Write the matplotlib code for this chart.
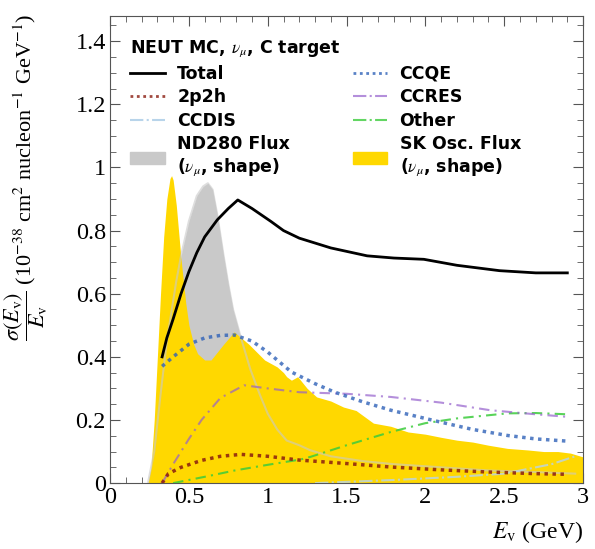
import numpy as np
import matplotlib
matplotlib.use("Agg")
import matplotlib.pyplot as plt
from matplotlib.patches import Patch
from matplotlib.lines import Line2D
from matplotlib.ticker import MultipleLocator

# cross sections / E (10^-38 cm^2 nucleon^-1 GeV^-1)
total_e = [0.33, 0.36, 0.40, 0.45, 0.50, 0.55, 0.60, 0.68, 0.75, 0.81, 0.90, 1.02, 1.10, 1.20, 1.40, 1.63,
           1.80, 1.99, 2.20, 2.47, 2.70, 2.90]
total_y = [0.40, 0.46, 0.52, 0.60, 0.67, 0.73, 0.78, 0.834, 0.87, 0.897, 0.87, 0.829, 0.80, 0.776, 0.745, 0.72,
           0.713, 0.709, 0.69, 0.673, 0.666, 0.666]

ccqe_e = [0.33, 0.40, 0.50, 0.60, 0.70, 0.79, 0.90, 1.00, 1.15, 1.30, 1.42, 1.60, 1.78, 2.09, 2.30, 2.52, 2.70, 2.90]
ccqe_y = [0.37, 0.40, 0.44, 0.46, 0.468, 0.469, 0.45, 0.415, 0.352, 0.315, 0.289, 0.258, 0.231, 0.194, 0.17, 0.151, 0.14, 0.133]

ccres_e = [0.33, 0.40, 0.50, 0.58, 0.70, 0.85, 1.00, 1.20, 1.50, 1.78, 2.10, 2.41, 2.70, 2.90]
ccres_y = [0.0, 0.06, 0.14, 0.20, 0.27, 0.31, 0.30, 0.288, 0.283, 0.273, 0.255, 0.231, 0.218, 0.21]

np_e = [0.33, 0.37, 0.45, 0.58, 0.70, 0.83, 1.00, 1.20, 1.50, 1.78, 2.10, 2.41, 2.70, 2.90]
np_y = [0.0, 0.03, 0.05, 0.072, 0.085, 0.091, 0.085, 0.073, 0.062, 0.051, 0.042, 0.035, 0.03, 0.028]

other_e = [0.40, 0.50, 0.60, 0.79, 1.00, 1.21, 1.27, 1.50, 1.78, 2.00, 2.20, 2.52, 2.70, 2.90]
other_y = [0.0, 0.01, 0.02, 0.04, 0.058, 0.075, 0.083, 0.12, 0.162, 0.19, 0.205, 0.221, 0.222, 0.218]

ccdis_e = [1.30, 1.80, 2.20, 2.50, 2.80, 2.95]
ccdis_y = [0.0, 0.01, 0.02, 0.03, 0.06, 0.085]

# flux shapes (arbitrary norm)
nd_e = [0.24, 0.28, 0.32, 0.36, 0.42, 0.45, 0.50, 0.55, 0.59, 0.62, 0.65, 0.68, 0.72, 0.75, 0.78, 0.83, 0.89,
        0.95, 1.00, 1.06, 1.12, 1.20, 1.27, 1.40, 1.60, 1.80, 2.10, 2.40, 2.70, 2.95]
nd_y = [0.0, 0.10, 0.28, 0.45, 0.64, 0.72, 0.83, 0.91, 0.94, 0.95, 0.93, 0.85, 0.72, 0.63, 0.55, 0.46, 0.36,
        0.28, 0.22, 0.17, 0.135, 0.12, 0.104, 0.085, 0.07, 0.06, 0.05, 0.04, 0.035, 0.03]

sk_e = [0.24, 0.26, 0.28, 0.30, 0.32, 0.34, 0.36, 0.38, 0.39, 0.40, 0.42, 0.45, 0.48, 0.50, 0.53, 0.555, 0.60,
        0.64, 0.72, 0.787, 0.88, 0.98, 1.06, 1.10, 1.12, 1.15, 1.19, 1.25, 1.31, 1.40, 1.48, 1.56, 1.67, 1.78,
        1.89, 2.00, 2.10, 2.20, 2.30, 2.40, 2.52, 2.65, 2.75, 2.84, 2.92, 3.00]
sk_y = [0.0, 0.05, 0.20, 0.40, 0.60, 0.78, 0.90, 0.965, 0.974, 0.96, 0.88, 0.71, 0.57, 0.50, 0.44, 0.41, 0.39,
        0.39, 0.44, 0.479, 0.44, 0.39, 0.368, 0.35, 0.337, 0.326, 0.337, 0.30, 0.273, 0.26, 0.241, 0.23, 0.19,
        0.18, 0.162, 0.155, 0.145, 0.136, 0.13, 0.12, 0.11, 0.105, 0.10, 0.10, 0.095, 0.083]

plt.rcParams['mathtext.fontset'] = 'stix'
plt.rcParams['font.family'] = 'Liberation Serif'

fig = plt.figure(figsize=(5.95, 5.49), dpi=100)
ax = fig.add_axes([0.185, 0.12, 0.795, 0.851])

gray = '#c9c9c9'
gold = '#ffd800'

ax.fill_between(nd_e, nd_y, color=gray, lw=0, zorder=1)
ax.fill_between(sk_e, sk_y, color=gold, lw=0, zorder=2)
ax.plot(nd_e, nd_y, color=gray, lw=1.5, alpha=0.6, zorder=3)

ax.plot(ccdis_e, ccdis_y, color='#b8d4ea', lw=1.5, ls='-.', alpha=0.8, zorder=4)
ax.plot(other_e, other_y, color='#3ccc3c', lw=1.5, ls=(0, (5, 2.5, 1, 2.5)), alpha=0.85, zorder=4)
ax.plot(ccres_e, ccres_y, color='#9560cc', lw=1.5, ls=(0, (5, 2.5, 1, 2.5)), alpha=0.7, zorder=4)
ax.plot(np_e, np_y, color='#8a1c10', lw=2.5, ls=(0, (1, 1.3)), alpha=0.85, zorder=4)
ax.plot(ccqe_e, ccqe_y, color='#2f62b8', lw=2.5, ls=(0, (1, 1.3)), alpha=0.8, zorder=4)
ax.plot(total_e, total_y, color='black', lw=2, zorder=5)

ax.set_xlim(0, 3)
ax.set_ylim(0, 1.48)
ax.xaxis.set_minor_locator(MultipleLocator(0.1))
ax.yaxis.set_minor_locator(MultipleLocator(0.05))
ax.set_xticks([0, 0.5, 1, 1.5, 2, 2.5, 3])
ax.set_xticklabels(['0', '0.5', '1', '1.5', '2', '2.5', '3'])
ax.set_yticks([0, 0.2, 0.4, 0.6, 0.8, 1, 1.2, 1.4])
ax.set_yticklabels(['0', '0.2', '0.4', '0.6', '0.8', '1', '1.2', '1.4'])
ax.tick_params(which='both', direction='in', top=True, right=True, labelsize=17.5, color='#555555', pad=3)
ax.tick_params(which='major', length=7)
ax.tick_params(which='minor', length=4)
for sp in ax.spines.values():
    sp.set_color('#555555')

ax.set_xlabel(r'$E_{\rm v}$ (GeV)', fontsize=17, loc='right', labelpad=8)
ax.set_ylabel(r'$\dfrac{\sigma(E_{\rm v})}{E_{\rm v}}$ (10$^{-38}$ cm$^2$ nucleon$^{-1}$ GeV$^{-1}$)', fontsize=16)
ax.yaxis.set_label_coords(-0.128, 0.655)

handles = [
    Line2D([], [], color='black', lw=2),
    Line2D([], [], color='#8a1c10', lw=2, ls=(0, (1, 1.3)), alpha=0.8),
    Line2D([], [], color='#b8d4ea', lw=1.5, ls='-.'),
    Patch(color=gray),
    Line2D([], [], color='#2f62b8', lw=2, ls=(0, (1, 1.3)), alpha=0.8),
    Line2D([], [], color='#9560cc', lw=1.5, ls='-.', alpha=0.7),
    Line2D([], [], color='#3ccc3c', lw=1.5, ls='-.', alpha=0.8),
    Patch(color=gold),
]
labels = ['Total', '2p2h', 'CCDIS', 'ND280 Flux\n' + r'($\nu_\mu$, shape)',
          'CCQE', 'CCRES', 'Other', 'SK Osc. Flux\n' + r'($\nu_\mu$, shape)']
lfont = {'family': 'DejaVu Sans', 'weight': 'bold', 'size': 12.5}
leg = ax.legend(handles, labels, ncol=2, loc='upper left', bbox_to_anchor=(0.01, 0.985),
                frameon=False, prop=lfont,
                title=r'NEUT MC, $\nu_\mu$, C target', title_fontproperties=lfont,
                handlelength=2.0, handletextpad=0.7, columnspacing=3.6, labelspacing=0.32, alignment='left')

fig.savefig('out.png', dpi=100)
